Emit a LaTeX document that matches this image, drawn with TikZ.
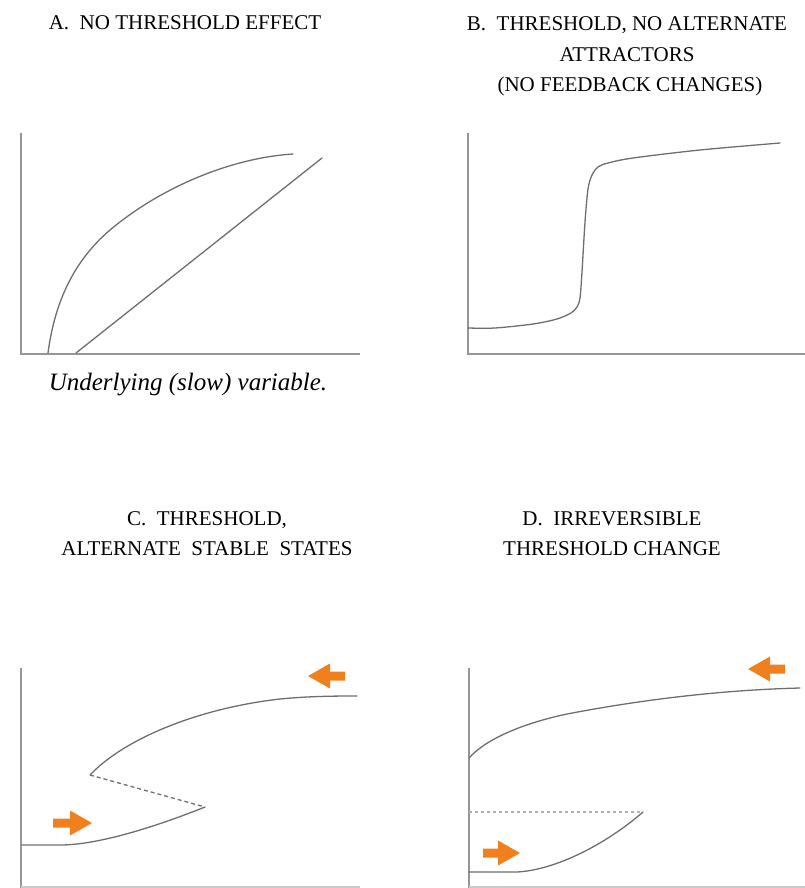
\documentclass[tikz,border=0pt]{standalone}
\usepackage{fontspec}
\setmainfont{Liberation Serif}
\definecolor{axisgray}{RGB}{150,150,150}
\definecolor{curvegray}{RGB}{110,110,110}
\definecolor{dotgray}{RGB}{175,175,175}
\definecolor{orangefill}{RGB}{240,128,30}
\newcommand\arrRight[3]{\fill[orangefill] (#1,#3-4.5) -- (#2-22,#3-4.5) -- (#2-22,#3-12.5) -- (#2,#3) -- (#2-22,#3+12.5) -- (#2-22,#3+4.5) -- (#1,#3+4.5) -- cycle;}
\newcommand\arrLeft[3]{\fill[orangefill] (#1,#3-4.5) -- (#2+22,#3-4.5) -- (#2+22,#3-12.5) -- (#2,#3) -- (#2+22,#3+12.5) -- (#2+22,#3+4.5) -- (#1,#3+4.5) -- cycle;}
\begin{document}
\begin{tikzpicture}[x=1pt,y=-1pt,
  title/.style={anchor=base,inner sep=0pt,font=\fontsize{21}{25}\selectfont},
  axis/.style={draw=axisgray,line width=1.4pt},
  curve/.style={draw=curvegray,line width=1.3pt,line cap=round,line join=round},
  unstable/.style={draw=curvegray,line width=1.3pt,dash pattern=on 4pt off 3pt},
  dotline/.style={draw=dotgray,line width=1.4pt,dash pattern=on 3pt off 3pt}]
\useasboundingbox (0,0) rectangle (805,888);
% titles
\node[title] (tA) at (185,30) {A.\ \ NO THRESHOLD EFFECT};
\node[title] (tB1) at (627,31) {B.\ \ THRESHOLD, NO ALTERNATE};
\node[title] (tB2) at (627,62) {ATTRACTORS};
\node[title] (tB3) at (630,92) {(NO FEEDBACK CHANGES)};
\node[title] (tC1) at (207,525) {C.\ \ THRESHOLD,};
\node[title] (tC2) at (207,555) {ALTERNATE\ \ STABLE\ \ STATES};
\node[title] (tD1) at (612,525) {D.\ \ IRREVERSIBLE};
\node[title] (tD2) at (612,555) {THRESHOLD CHANGE};
\node[anchor=base,inner sep=0pt,font=\fontsize{25}{30}\selectfont\itshape] (xl) at (188,390) {Underlying (slow) variable.};
% panel A
\draw[axis] (21,133) -- (21,354) -- (360,354);
\draw[curve] (48,353) .. controls (55,300) and (75,260) .. (110,230) .. controls (160,188) and (230,158) .. (293,154);
\draw[curve] (76,353) -- (322,158);
% panel B
\draw[axis] (468,133) -- (468,354) -- (805,354);
\draw[curve] plot[smooth,tension=0.5] coordinates {(468,328) (495,328) (533,324) (557,319) (571,313) (577,307) (580,298) (582,272) (585,222) (588,189) (592,175) (598,167) (608,163) (633,158) (700,150) (780,143)};
% panel C
\draw[axis] (21,668) -- (21,888);
\draw[axis,draw=axisgray!50] (21,887) -- (360,887);
\draw[curve] (90,775) .. controls (125,738) and (200,708) .. (280,699) .. controls (310,696) and (340,696) .. (357,696);
\draw[unstable] (90,775) -- (205,807);
\draw[curve] (205,807) .. controls (160,825) and (100,845) .. (60,845) -- (22,845);
\arrRight{53}{92}{823}
\arrLeft{345}{308}{676}
% panel D
\draw[axis] (469,668) -- (469,888);
\draw[axis,draw=axisgray!50] (469,887) -- (805,887);
\draw[curve] (469,758) .. controls (485,740) and (520,724) .. (567,714) .. controls (640,700) and (720,690) .. (800,688);
\draw[dotline] (469,812) -- (643,812);
\draw[curve] (469,872) -- (517,872) .. controls (555,870) and (605,845) .. (643,812);
\arrRight{483}{520}{853}
\arrLeft{785}{748}{669}
\end{tikzpicture}
\end{document}
